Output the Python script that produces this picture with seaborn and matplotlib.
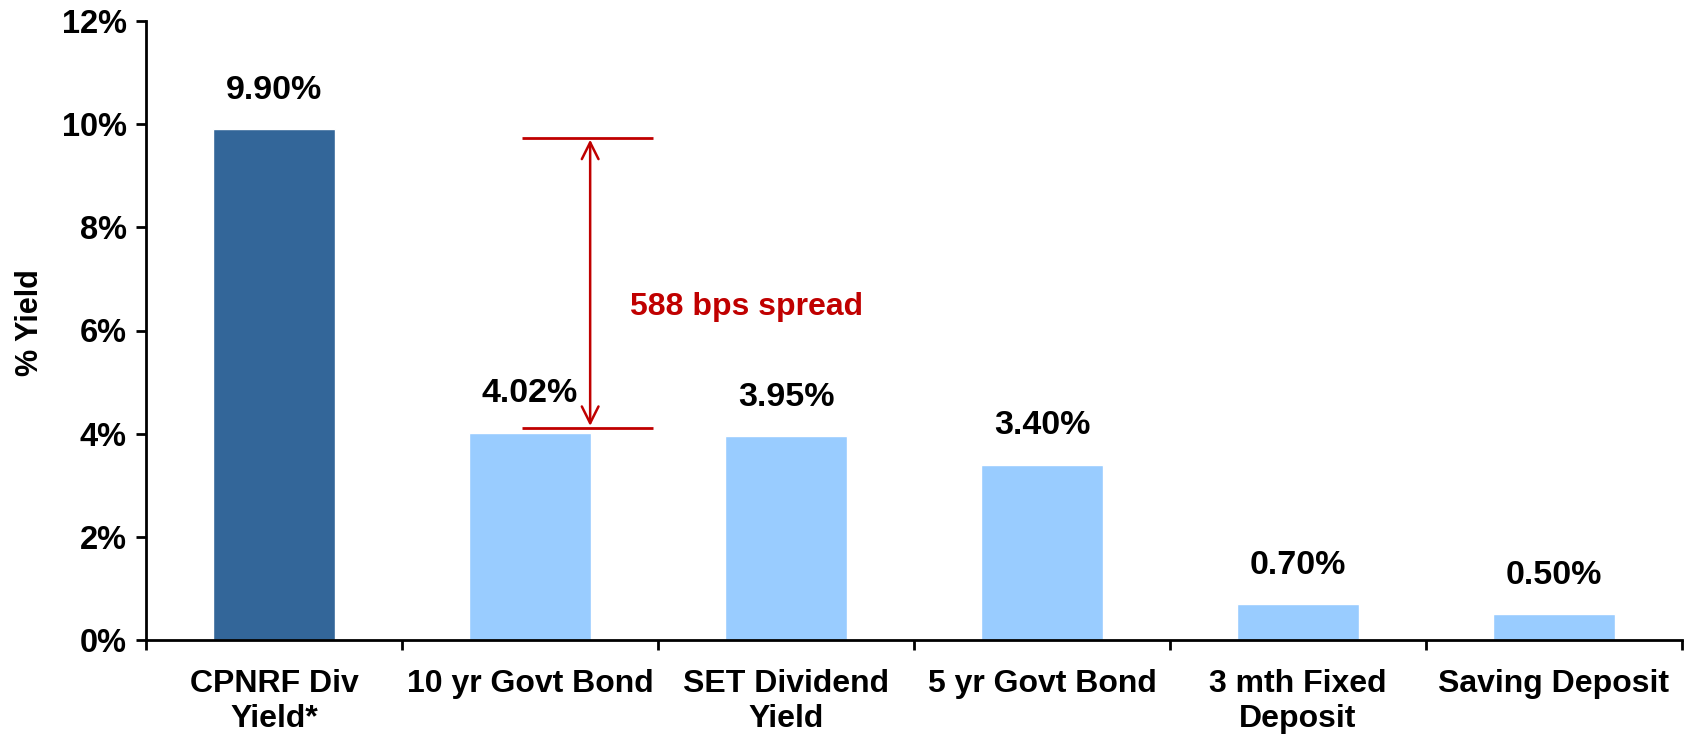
import matplotlib
matplotlib.use("Agg")
import matplotlib.pyplot as plt
import seaborn as sns
import pandas as pd
from matplotlib.ticker import FuncFormatter, FixedLocator

categories = ["CPNRF Div\nYield*", "10 yr Govt Bond", "SET Dividend\nYield",
              "5 yr Govt Bond", "3 mth Fixed\nDeposit", "Saving Deposit"]
values = [9.90, 4.02, 3.95, 3.40, 0.70, 0.50]
labels = ["9.90%", "4.02%", "3.95%", "3.40%", "0.70%", "0.50%"]
bar_colors = ["#336699", "#99CCFF", "#99CCFF", "#99CCFF", "#99CCFF", "#99CCFF"]
spread_text = "588 bps spread"

sns.set_theme(style="white")
plt.rcParams["font.family"] = ["Liberation Sans", "DejaVu Sans"]
plt.rcParams["font.weight"] = "bold"
plt.rcParams["text.color"] = "black"
plt.rcParams["xtick.color"] = "black"
plt.rcParams["ytick.color"] = "black"
plt.rcParams["axes.labelcolor"] = "black"

df = pd.DataFrame({"cat": categories, "val": values})

fig = plt.figure(figsize=(16.86, 7.41), dpi=100)
ax = fig.add_axes([146/1686, 1-640/741, 1536/1686, 619/741])

sns.barplot(data=df, x="cat", y="val", hue="cat", palette=bar_colors,
            width=0.48, legend=False, ax=ax, saturation=1)

ax.set_xlim(-0.5, len(categories) - 0.5)
ax.set_ylim(0, 12)
ax.set_yticks(range(0, 13, 2))
ax.yaxis.set_major_formatter(FuncFormatter(lambda v, p: f"{int(v)}%"))

for s in ["top", "right"]:
    ax.spines[s].set_visible(False)
for s in ["left", "bottom"]:
    ax.spines[s].set_color("black")
    ax.spines[s].set_linewidth(2)

ax.tick_params(axis="y", which="major", direction="out", length=7, width=2,
               color="black", labelcolor="black", labelsize=23.5, pad=7, left=True)
ax.tick_params(axis="x", which="major", length=0, labelsize=23, pad=21,
               labelcolor="black")
ax.xaxis.set_minor_locator(FixedLocator([i - 0.5 for i in range(len(categories) + 1)]))
ax.tick_params(axis="x", which="minor", direction="out", length=7, width=2,
               color="black", bottom=True)
for t in ax.get_xticklabels():
    t.set_fontweight("bold")
    t.set_linespacing(1.22)
for t in ax.get_yticklabels():
    t.set_fontweight("bold")

ax.set_xlabel("")
ax.set_ylabel("% Yield", fontsize=22, fontweight="bold", color="black")
ax.yaxis.set_label_coords(-0.066, 0.513)

for i, (v, lab) in enumerate(zip(values, labels)):
    ax.annotate(lab, xy=(i, v), xytext=(0, 28), textcoords="offset points",
                ha="center", va="center", fontsize=24.5, fontweight="bold",
                color="black")

red = "#C00000"
ax.plot([0.97, 1.48], [9.74, 9.74], color=red, lw=2, solid_capstyle="butt")
ax.plot([0.97, 1.48], [4.11, 4.11], color=red, lw=2, solid_capstyle="butt")
ax.annotate("", xy=(1.235, 9.70), xytext=(1.235, 4.15),
            arrowprops=dict(arrowstyle="<->", color=red, lw=1.8,
                            mutation_scale=30, shrinkA=0, shrinkB=0))
ax.text(1.39, 6.45, spread_text, color=red, fontsize=23, fontweight="bold",
        ha="left", va="center")

fig.savefig("out.png", dpi=100)
